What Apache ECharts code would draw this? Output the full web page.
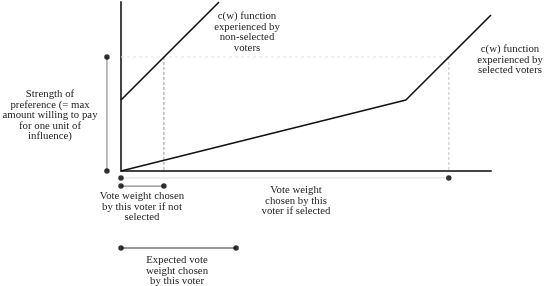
<!DOCTYPE html>
<html>
<head>
<meta charset="utf-8">
<script src="https://cdn.jsdelivr.net/npm/echarts@6/dist/echarts.min.js"></script>
<style>
html,body{margin:0;padding:0;background:#fff;}
#chart{width:549px;height:286px;}
</style>
</head>
<body>
<div id="chart"></div>
<script>
// Key vote weights (x, abstract units 0..10) and strengths (y, abstract units 0..10)
const wNotSelected = 1.16;   // vote weight chosen if not selected
const wExpected = 3.11;      // expected vote weight
const wKink = 7.70;          // kink of selected c(w)
const wSelected = 8.86;      // vote weight chosen if selected
const prefLevel = 6.75;      // strength of preference
const prefMarkerX = -0.38;   // position of the strength bracket (left of y axis)

// c(w) curves
const nonSelectedCurve = [[0, 4.2], [2.65, 10]];
const selectedCurve = [[0, 0], [wKink, 4.2], [10, 9.23]];

// guide lines
const prefGuide = [[0, prefLevel], [wSelected, prefLevel]];
const notSelGuide = [[wNotSelected, prefLevel], [wNotSelected, 0]];
const selGuide = [[wSelected, prefLevel], [wSelected, 0]];

// brackets below / left of axes
const prefBracket = [[prefMarkerX, prefLevel], [prefMarkerX, 0]];
const selBracket = [[0, -0.41], [wSelected, -0.41]];
const notSelBracket = [[0, -0.89], [wNotSelected, -0.89]];
const expBracket = [[0, -4.56], [wExpected, -4.56]];

// annotation texts
const labels = {
  pref: 'Strength of\npreference (= max\namount willing to pay\nfor one unit of\ninfluence)',
  nonSel: 'c(w) function\nexperienced by\nnon-selected\nvoters',
  sel: 'c(w) function\nexperienced by\nselected voters',
  wSel: 'Vote weight\nchosen by this\nvoter if selected',
  wNot: 'Vote weight chosen\nby this voter if not\nselected',
  wExp: 'Expected vote\nweight chosen\nby this voter'
};

const chart = echarts.init(document.getElementById('chart'), null, {renderer: 'canvas'});
const FONT = '"Liberation Serif", "DejaVu Serif", serif';

// segments drawn through a custom series so they are never clipped
function segS(data, color, width, dash) {
  return {
    type: 'custom', data: [data[0].concat(data[1])], silent: true, clip: false, z: 2,
    renderItem: function (params, api) {
      const p1 = api.coord([api.value(0), api.value(1)]);
      const p2 = api.coord([api.value(2), api.value(3)]);
      return {
        type: 'line',
        shape: {x1: p1[0], y1: p1[1], x2: p2[0], y2: p2[1]},
        style: {stroke: color, lineWidth: width, lineDash: dash || null}
      };
    }
  };
}
function lineS(data, color, width) {
  return {
    type: 'line', data: data, symbol: 'none', clip: false, silent: true,
    lineStyle: {color: color, width: width}, z: 3
  };
}
function dots(data) {
  return {
    type: 'scatter', data: data, symbolSize: 5.5, clip: false, silent: true,
    itemStyle: {color: '#000'}, z: 5
  };
}
function txt(text, x, y) {
  return {
    type: 'text', x: x, y: y, silent: true,
    style: {
      text: text, align: 'center', verticalAlign: 'top',
      font: '10.8px ' + FONT, lineHeight: 10.5, fill: '#222'
    }
  };
}

chart.setOption({
  animation: false,
  grid: {left: 121, top: 2, right: 58, bottom: 115},
  xAxis: {
    type: 'value', min: 0, max: 10,
    axisLine: {show: true, onZero: false, lineStyle: {color: '#444', width: 2}},
    axisTick: {show: false}, axisLabel: {show: false}, splitLine: {show: false}
  },
  yAxis: {
    type: 'value', min: 0, max: 10,
    axisLine: {show: true, onZero: false, lineStyle: {color: '#444', width: 2}},
    axisTick: {show: false}, axisLabel: {show: false}, splitLine: {show: false}
  },
  series: [
    segS(prefGuide, '#e4e4e4', 1, [3, 3]),
    segS(notSelGuide, '#999', 1, [3, 2]),
    segS(selGuide, '#c4c4c4', 1, [3, 2]),
    lineS(nonSelectedCurve, '#111', 1.6),
    lineS(selectedCurve, '#111', 1.6),
    segS(prefBracket, '#777', 1),
    segS(selBracket, '#ddd', 1),
    segS(notSelBracket, '#888', 1.2),
    segS(expBracket, '#777', 1.4),
    dots(prefBracket),
    dots(selBracket),
    dots(notSelBracket),
    dots(expBracket)
  ],
  graphic: [
    txt(labels.pref, 50, 89),
    txt(labels.nonSel, 247, 11),
    txt(labels.sel, 510, 44),
    txt(labels.wSel, 296, 185),
    txt(labels.wNot, 142, 191),
    txt(labels.wExp, 177, 255)
  ]
});
</script>
</body>
</html>
